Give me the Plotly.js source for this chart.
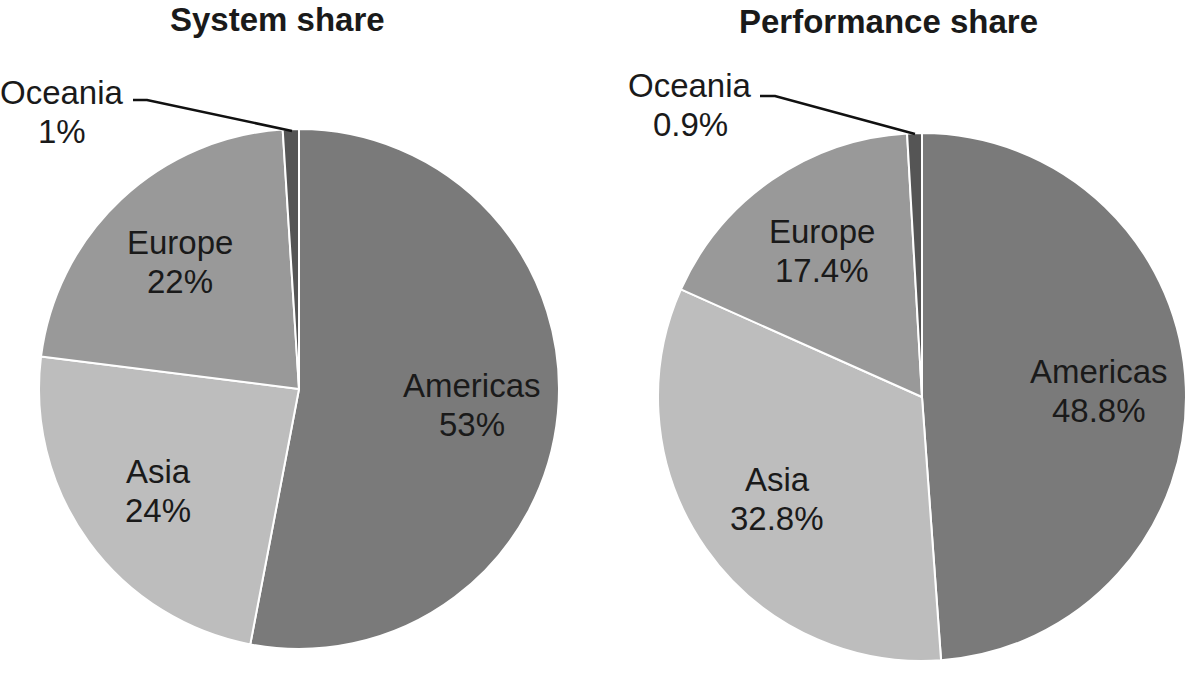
<!DOCTYPE html>
<html>
<head>
<meta charset="utf-8">
<script src="https://cdn.plot.ly/plotly-3.0.1.min.js"></script>
<style>html,body{margin:0;padding:0;background:#fff}#chart{width:1200px;height:679px}</style>
</head>
<body>
<div id="chart"></div>
<script>
var regions = ['Americas', 'Asia', 'Europe', 'Oceania'];
var systemShare = [53, 24, 22, 1];
var performanceShare = [48.8, 32.8, 17.4, 0.9];
var sliceColors = ['#7a7a7a', '#bdbdbd', '#999999', '#555555'];
var chartTitles = ['System share', 'Performance share'];

var W = 1200, H = 679;
function px(x) { return x / W; }
function py(y) { return 1 - y / H; }

var FONT = 'Liberation Sans, Arial, Helvetica, sans-serif';
var labelFont = {family: FONT, size: 33, color: '#1a1a1a'};
var LINE = 39; // pixel distance between the two lines of a label

// pie geometry (pixels): centre and radius
var pies = [
  {vals: systemShare, cx: 299, cy: 389, r: 260},
  {vals: performanceShare, cx: 922, cy: 397, r: 264}
];

function pieTrace(p) {
  return {
    type: 'pie',
    labels: regions,
    values: p.vals,
    sort: false,
    direction: 'clockwise',
    rotation: 0,
    marker: {colors: sliceColors, line: {color: '#ffffff', width: 2}},
    textinfo: 'none',
    hoverinfo: 'label+percent',
    domain: {x: [px(p.cx - p.r), px(p.cx + p.r)], y: [py(p.cy + p.r), py(p.cy - p.r)]},
    showlegend: false
  };
}

var data = pies.map(pieTrace);

var annotations = [
  {text: '<b>' + chartTitles[0] + '</b>', x: px(277), y: py(19), xref: 'paper', yref: 'paper',
   xanchor: 'center', yanchor: 'middle', showarrow: false, font: {family: FONT, size: 33, color: '#1a1a1a'}},
  {text: '<b>' + chartTitles[1] + '</b>', x: px(888), y: py(21), xref: 'paper', yref: 'paper',
   xanchor: 'center', yanchor: 'middle', showarrow: false, font: {family: FONT, size: 33, color: '#1a1a1a'}}
];

function twoLineLabel(name, value, x, y) {
  annotations.push({text: name, x: px(x), y: py(y - LINE / 2), xref: 'paper', yref: 'paper',
    xanchor: 'center', yanchor: 'middle', showarrow: false, font: labelFont});
  annotations.push({text: value + '%', x: px(x), y: py(y + LINE / 2), xref: 'paper', yref: 'paper',
    xanchor: 'center', yanchor: 'middle', showarrow: false, font: labelFont});
}

// outside labels for the tiny Oceania slices
twoLineLabel(regions[3], systemShare[3], 62, 112);
twoLineLabel(regions[3], performanceShare[3], 690, 105);

// inside labels at the middle angle of each large slice
var RF = 0.67;
pies.forEach(function (p) {
  var total = p.vals.reduce(function (a, b) { return a + b; }, 0);
  var cum = 0;
  p.vals.forEach(function (v, i) {
    var mid = (cum + v / 2) / total * 2 * Math.PI;
    cum += v;
    if (i === 3) return;
    twoLineLabel(regions[i], v, p.cx + RF * p.r * Math.sin(mid), p.cy - RF * p.r * Math.cos(mid));
  });
});

var layout = {
  width: W, height: H,
  margin: {l: 0, r: 0, t: 0, b: 0},
  paper_bgcolor: '#ffffff',
  showlegend: false,
  annotations: annotations,
  shapes: [
    {type: 'path', xref: 'paper', yref: 'paper',
     path: 'M ' + px(133) + ' ' + py(100) + ' L ' + px(147) + ' ' + py(100) + ' L ' + px(292) + ' ' + py(131),
     line: {color: '#111111', width: 2.5}},
    {type: 'path', xref: 'paper', yref: 'paper',
     path: 'M ' + px(760) + ' ' + py(96) + ' L ' + px(775) + ' ' + py(96) + ' L ' + px(915) + ' ' + py(134),
     line: {color: '#111111', width: 2.5}}
  ]
};

Plotly.newPlot('chart', data, layout, {displayModeBar: false, staticPlot: true});
</script>
</body>
</html>
